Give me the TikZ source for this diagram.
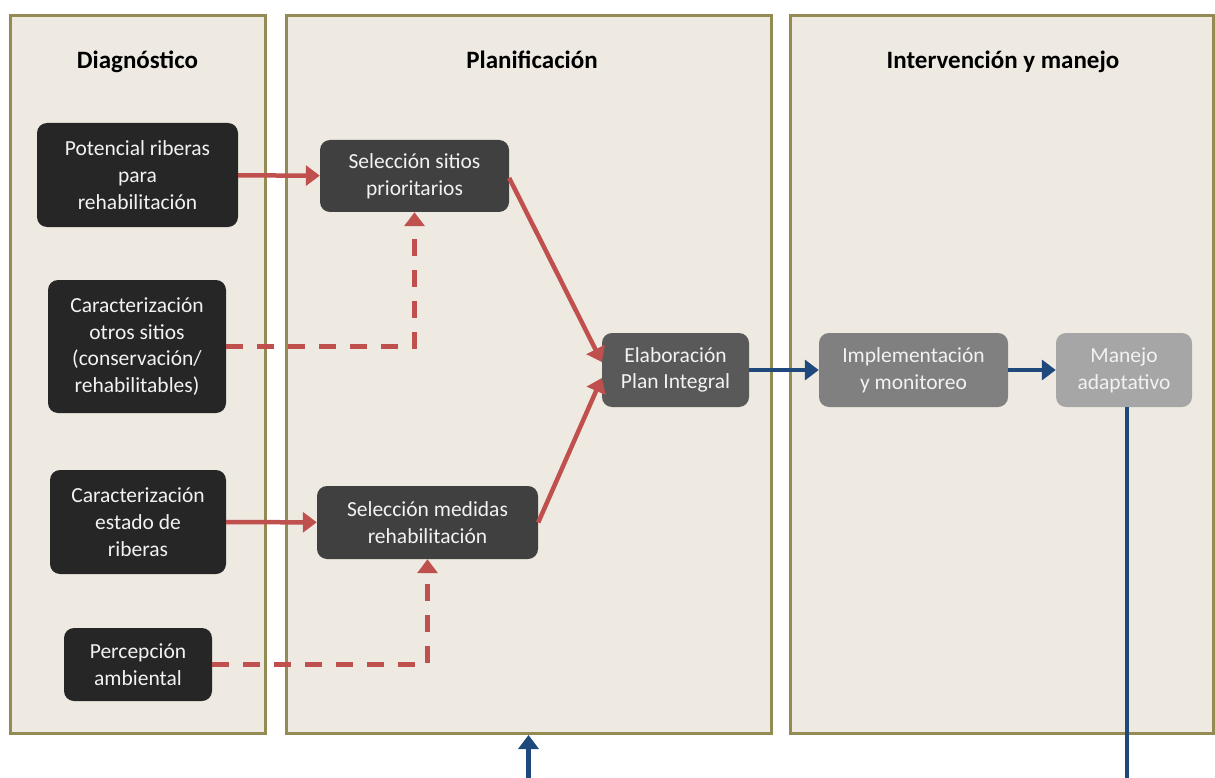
\documentclass[tikz,border=0pt]{standalone}
\usepackage{fontspec}
\setmainfont{Carlito}
\usetikzlibrary{positioning, arrows.meta, calc}
\definecolor{panfill}{HTML}{EEEAE1}
\definecolor{panline}{HTML}{948A54}
\definecolor{redline}{HTML}{C0504D}
\definecolor{blueline}{HTML}{1F497D}
\definecolor{boxtext}{HTML}{F2F2F2}

\begin{document}
\begin{tikzpicture}[
  x=1pt, y=-1pt,
  font=\fontsize{21.5}{26.7}\selectfont,
  panel/.style={draw=panline, line width=3pt, fill=panfill, inner sep=0pt},
  ptitle/.style={font=\fontsize{25}{30}\selectfont\bfseries, text=black, text height=17pt, text depth=5pt},
  box/.style={rounded corners=10pt, text=boxtext, align=center, inner sep=2pt},
  red/.style={-{Triangle[length=14pt, width=20pt]}, line width=4.5pt, redline},
  reddash/.style={red, dash pattern=on 17pt off 14pt},
  blue/.style={-{Triangle[length=14pt, width=20pt]}, line width=4.5pt, blueline}
]
  \useasboundingbox (0,0) rectangle (1215,778);
  \fill[white] (0,0) rectangle (1215,778);

  \node[panel, minimum width=255pt, minimum height=718pt] (pandiag) at (137.5,374.5) {};
  \node[panel, minimum width=485pt, minimum height=718pt] (panplan) at (528.5,374.5) {};
  \node[panel, minimum width=423pt, minimum height=718pt] (panint) at (1001.5,374.5) {};

  \node[ptitle] (tdiag) at (137.5,63) {Diagnóstico};
  \node[ptitle] (tplan) at (532,63) {Planificación};
  \node[ptitle] (tint) at (1003,63) {Intervención y manejo};

  \node[box, fill=black!85, minimum width=201pt, minimum height=104pt] (pot) at (137.5,175) {Potencial riberas\\para\\rehabilitación};
  \node[box, fill=black!85, minimum width=178pt, minimum height=133pt] (carac1) at (137,346.5) {Caracterización\\otros sitios\\(conservación/\\rehabilitables)};
  \node[box, fill=black!85, minimum width=176pt, minimum height=104pt] (carac2) at (138,522) {Caracterización\\estado de\\riberas};
  \node[box, fill=black!85, minimum width=148pt, minimum height=73pt] (perc) at (138,664.5) {Percepción\\ambiental};

  \node[box, fill=black!75, minimum width=189pt, minimum height=72pt] (sitios) at (414.5,176) {Selección sitios\\prioritarios};
  \node[box, fill=black!75, minimum width=221pt, minimum height=73pt] (medidas) at (427.5,522.5) {Selección medidas\\rehabilitación};
  \node[box, fill=black!65, minimum width=147pt, minimum height=74pt] (plan) at (675.5,370) {Elaboración\\Plan Integral};
  \node[box, fill=black!50, minimum width=189pt, minimum height=74pt] (impl) at (913.5,370) {Implementación\\y monitoreo};
  \node[box, fill=black!35, minimum width=136pt, minimum height=74pt] (manejo) at (1124,370) {Manejo\\adaptativo};

  \coordinate (fb) at (1127,781);

  \draw[red] (pot) -- (sitios);
  \draw[red] (carac2) -- (medidas);
  \draw[reddash] (carac1.east) -| (sitios.south);
  \draw[reddash] (perc.east) -| (medidas.south);
  \draw[red] ([yshift=-2pt]sitios.east) -- ([yshift=8pt]plan.west);
  \draw[red] (medidas.east) -- ([yshift=-8pt]plan.west);

  \draw[blue] (plan) -- (impl);
  \draw[blue] (impl) -- (manejo);
  \draw[blue] (manejo.south -| fb) -- (fb) -| (panplan.south);
\end{tikzpicture}
\end{document}
